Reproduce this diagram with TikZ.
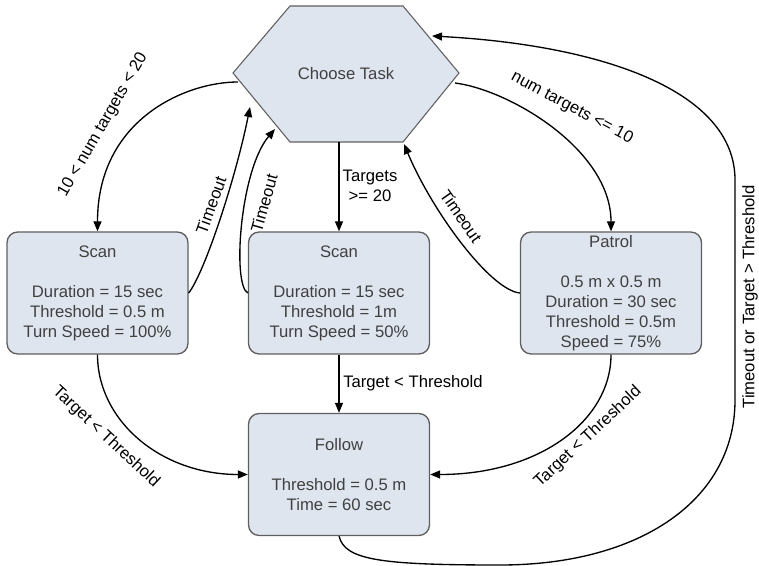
\documentclass[tikz,border=0pt]{standalone}
\usepackage{fontspec}
\setmainfont{Liberation Sans}
\usetikzlibrary{arrows.meta}
\definecolor{boxfill}{RGB}{223,229,239}
\definecolor{boxline}{RGB}{95,95,95}
\definecolor{boxtext}{RGB}{64,64,64}
\begin{document}
\begin{tikzpicture}[x=0.75pt,y=-0.75pt,
 box/.style={draw=boxline, line width=1pt, fill=boxfill, rounded corners=8pt, minimum width=135.75pt, minimum height=91.5pt, align=center, text=boxtext, font=\fontsize{12.5}{15}\selectfont, inner sep=2pt},
 conn/.style={draw, line width=1pt, -{Triangle[length=7.5pt,width=6pt]}},
 lab/.style={font=\fontsize{12.5}{15}\selectfont, inner sep=0pt, align=center}]
\useasboundingbox (0,0) rectangle (759,566);
% hexagon
\draw[draw=boxline, line width=0.8pt, fill=boxfill] (233,73) -- (290,6) -- (403,6) -- (459,73) -- (403,142) -- (290,142) -- cycle;
\node[text=boxtext, font=\fontsize{12.5}{15}\selectfont] (task) at (346,74) {Choose Task};
\coordinate (hA) at (238,82);
\coordinate (hB) at (455,83);
\coordinate (hC) at (339,142);
\coordinate (hE) at (250,107);
\coordinate (hF) at (275,129);
\coordinate (hG) at (404,144);
\coordinate (hJ) at (432,36);
% boxes
\node[box] (scanA) at (97.5,293) {Scan\\[15pt]Duration = 15 sec\\Threshold = 0.5 m\\Turn Speed = 100\%};
\node[box] (scanB) at (339,293) {Scan\\[15pt]Duration = 15 sec\\Threshold = 1m\\Turn Speed = 50\%};
\node[box] (patrol) at (611,293) {Patrol\\[15pt]0.5 m x 0.5 m\\Duration = 30 sec\\Threshold = 0.5m\\Speed = 75\%};
\node[box] (follow) at (339,474.5) {Follow\\[15pt]Threshold = 0.5 m\\Time = 60 sec};
% connectors
\draw[conn] (hA) .. controls (185,82) and (97.5,120) .. (scanA.north);
\draw[conn] (hB) .. controls (510,90) and (611,150) .. (patrol.north);
\draw[conn] (hC) -- (scanB.north);
\draw[conn] (scanB.south) -- (follow.north);
\draw[conn] (scanA.east) .. controls (205,272) and (236,177) .. (hE);
\draw[conn] (scanB.west) .. controls (232,285) and (240,170) .. (hF);
\draw[conn] (patrol.west) .. controls (490,290) and (432,211) .. (hG);
\draw[conn] (scanA.south) .. controls (97.5,420) and (160,474.5) .. (follow.west);
\draw[conn] (patrol.south) .. controls (611,420) and (540,474.5) .. (follow.east);
\draw[conn] (follow.south) .. controls (345,560) and (380,565) .. (500,565) .. controls (640,565) and (735,500) .. (735,400) -- (735,180) .. controls (735,90) and (600,45) .. (hJ);
% labels
\node[lab, rotate=60] (l1) at (103,125) {10 < num targets < 20};
\node[lab, rotate=-28] (l2) at (572,108) {num targets <= 10};
\node[lab] (l3) at (370,186) {Targets\\>= 20};
\node[lab, anchor=west] (l4) at (343,383) {Target < Threshold};
\node[lab, rotate=70] (l5) at (211,205) {Timeout};
\node[lab, rotate=74] (l6) at (264,203) {Timeout};
\node[lab, rotate=-55] (l7) at (461,216) {Timeout};
\node[lab, rotate=-43] (l8) at (106,437) {Target < Threshold};
\node[lab, rotate=43] (l9) at (588,437) {Target < Threshold};
\node[lab, rotate=90] (l10) at (750,297) {Timeout or Target > Threshold};
\end{tikzpicture}
\end{document}
